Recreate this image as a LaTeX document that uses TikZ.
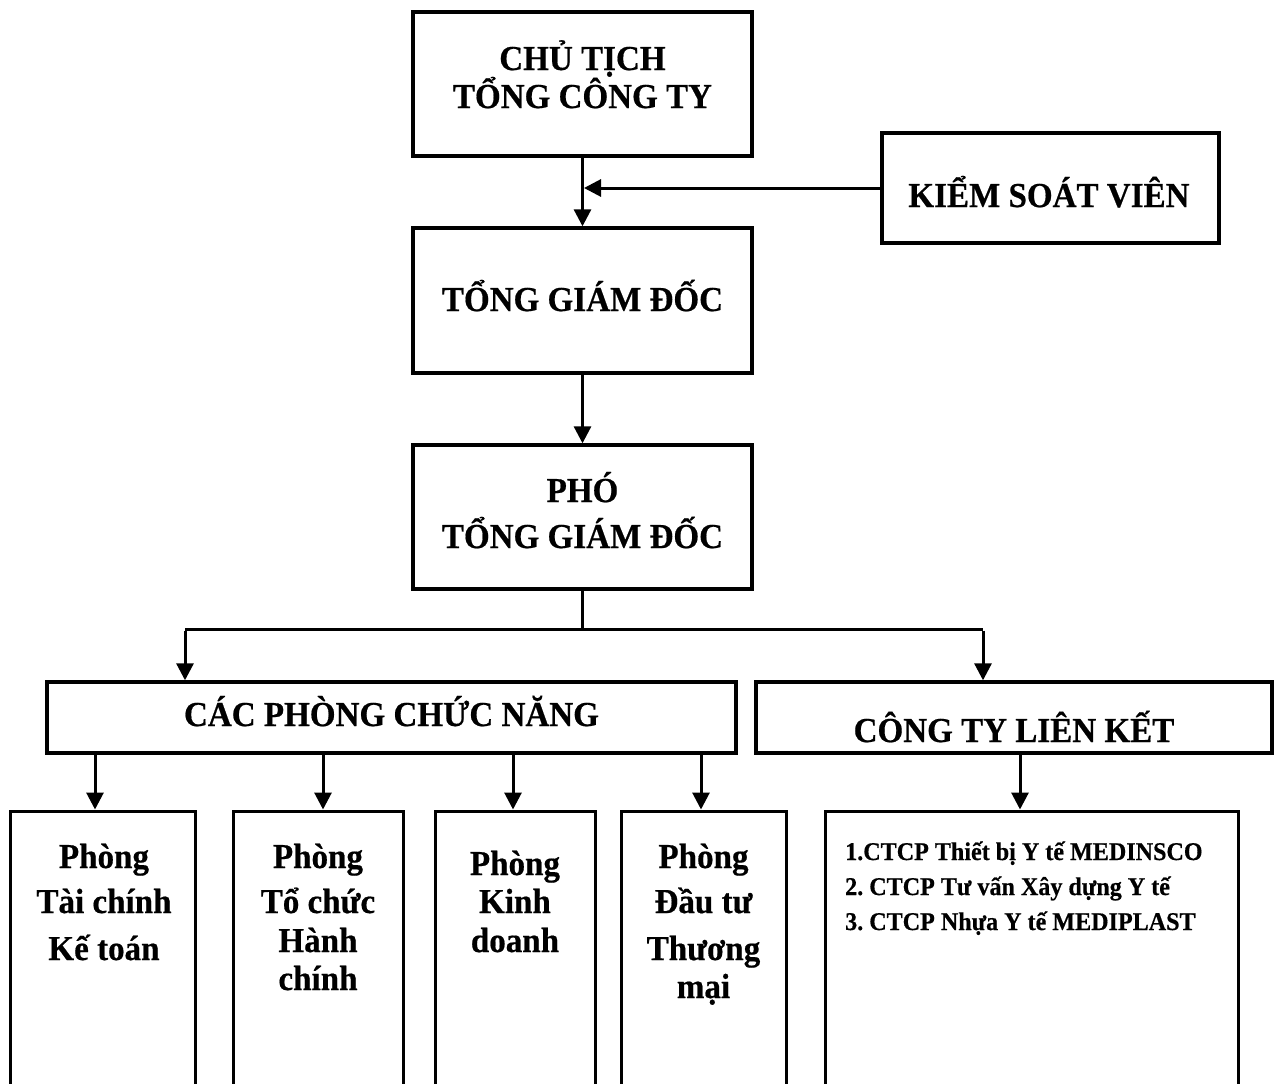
\documentclass[tikz,border=0pt]{standalone}
\usepackage{fontspec}
\setmainfont{Liberation Serif}[FakeStretch=0.945,BoldFeatures={FakeBold=0.5}]
\usetikzlibrary{arrows.meta}
\begin{document}
\begin{tikzpicture}[x=1pt,y=-1pt,
  box/.style={draw,line width=3.4pt,rectangle,inner sep=0pt},
  lowbox/.style={draw,line width=3pt,rectangle,inner sep=0pt},
  arr/.style={line width=3pt,-{Triangle[length=17pt,width=17pt]}},
  conn/.style={line width=3pt},
  big/.style={font=\fontsize{35}{40}\selectfont\bfseries,inner sep=0pt,anchor=base},
  small/.style={font=\fontsize{25.5}{28}\selectfont\bfseries,inner sep=0pt,anchor=base west}]
\clip (0,0) rectangle (1280,1084);
\fill[white] (0,0) rectangle (1280,1084);
% top boxes
\node[box,minimum width=339pt,minimum height=144pt] (ct) at (582.5,84) {};
\node[box,minimum width=337pt,minimum height=110pt] (ksv) at (1050.5,188) {};
\node[box,minimum width=339pt,minimum height=145pt] (tgd) at (582.5,300.5) {};
\node[box,minimum width=339pt,minimum height=144pt] (ptgd) at (582.5,517) {};
\node[box,minimum width=689pt,minimum height=71pt] (cpcn) at (391.5,717.5) {};
\node[box,minimum width=516pt,minimum height=71pt] (ctlk) at (1014,717.5) {};
% bottom boxes (extend beyond the page)
\node[lowbox,minimum width=185pt,minimum height=300pt] (p1) at (102.5,961) {};
\node[lowbox,minimum width=170pt,minimum height=300pt] (p2) at (318,961) {};
\node[lowbox,minimum width=160pt,minimum height=300pt] (p3) at (515,961) {};
\node[lowbox,minimum width=165pt,minimum height=300pt] (p4) at (703.5,961) {};
\node[lowbox,minimum width=413pt,minimum height=300pt] (p5) at (1031.5,961) {};
% texts
\node[big] (tct1) at (582.5,70) {CHỦ TỊCH};
\node[big] (tct2) at (582.5,108) {TỔNG CÔNG TY};
\node[big] (tksv) at (1049,207) {KIỂM SOÁT VIÊN};
\node[big] (ttgd) at (582.5,311) {TỔNG GIÁM ĐỐC};
\node[big] (tpt1) at (582.5,502) {PHÓ};
\node[big] (tpt2) at (582.5,548) {TỔNG GIÁM ĐỐC};
\node[big] (tcp) at (391.5,726) {CÁC PHÒNG CHỨC NĂNG};
\node[big] (tlk) at (1014,742) {CÔNG TY LIÊN KẾT};
\node[big] (a1) at (104,868) {Phòng};
\node[big] (a2) at (104,913) {Tài chính};
\node[big] (a3) at (104,960) {Kế toán};
\node[big] (b1) at (318,868) {Phòng};
\node[big] (b2) at (318,913) {Tổ chức};
\node[big] (b3) at (318,952) {Hành};
\node[big] (b4) at (318,990) {chính};
\node[big] (c1) at (515,875) {Phòng};
\node[big] (c2) at (515,913) {Kinh};
\node[big] (c3) at (515,952) {doanh};
\node[big] (d1) at (703.5,868) {Phòng};
\node[big] (d2) at (703.5,913) {Đầu tư};
\node[big] (d3) at (703.5,960) {Thương};
\node[big] (d4) at (703.5,998) {mại};
\node[small] (e1) at (845,860) {1.CTCP Thiết bị Y tế MEDINSCO};
\node[small] (e2) at (845,895) {2.\hspace{6pt}CTCP Tư vấn Xây dựng Y tế};
\node[small] (e3) at (845,930) {3.\hspace{6pt}CTCP Nhựa Y tế MEDIPLAST};
% connectors
\draw[arr] (ct.south) -- (tgd.north);
\coordinate (kj) at (ct.south |- ksv.west);
\draw[arr] (ksv.west) -- ([xshift=1.5pt]kj);
\draw[arr] (tgd.south) -- (ptgd.north);
\coordinate (br) at (ptgd.south |- 0,629);
\coordinate (brl) at (185,629);
\coordinate (brr) at (983,629);
\draw[conn] (ptgd.south) -- (br);
\draw[conn] (brl) -- (brr);
\draw[arr] ([yshift=-1.5pt]brl) -- (brl |- cpcn.north);
\draw[arr] ([yshift=-1.5pt]brr) -- (brr |- ctlk.north);
\draw[arr] (cpcn.south -| 95,0) -- (95,0 |- p1.north);
\draw[arr] (cpcn.south -| 323,0) -- (323,0 |- p2.north);
\draw[arr] (cpcn.south -| 513,0) -- (513,0 |- p3.north);
\draw[arr] (cpcn.south -| 701,0) -- (701,0 |- p4.north);
\draw[arr] (ctlk.south -| 1020,0) -- (1020,0 |- p5.north);
\end{tikzpicture}
\end{document}
